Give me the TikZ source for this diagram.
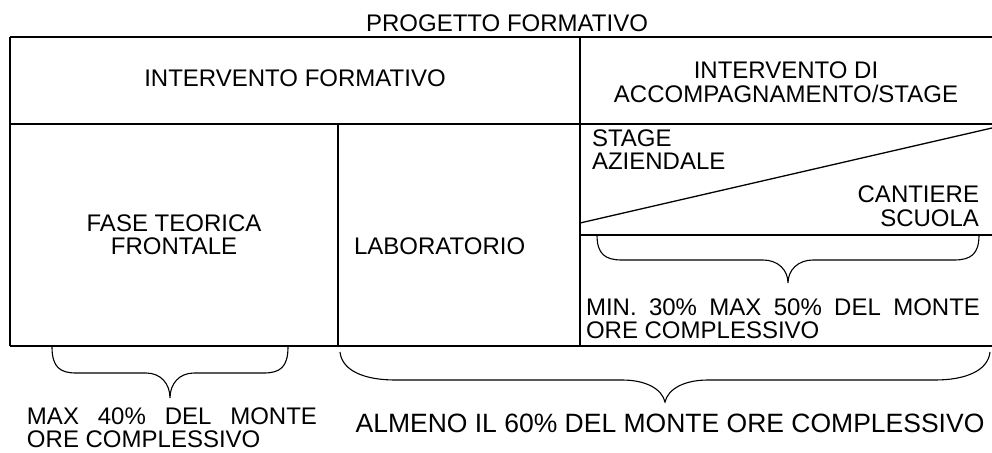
\documentclass[tikz,border=0pt]{standalone}
\usepackage{fontspec}
\setmainfont{Liberation Sans}
\begin{document}
\begin{tikzpicture}[x=1pt,y=-1pt,
  rule/.style={line width=1.3pt,black},
  bracepath/.style={line width=1.1pt,black},
  lbl/.style={inner sep=0pt,outer sep=0pt,font=\fontsize{24}{24}\selectfont},
  biglbl/.style={inner sep=0pt,outer sep=0pt,font=\fontsize{26.5}{26.5}\selectfont}]
\useasboundingbox[fill=white] (0,0) rectangle (992,452);
% table corners
\coordinate (tl) at (10,37);
\coordinate (tr) at (992,37);
\coordinate (bl) at (10,346);
\coordinate (br) at (992,346);
\coordinate (ml) at (10,124);
\coordinate (mr) at (992,124);
\coordinate (vt) at (580,37);
\coordinate (vm) at (580,124);
\coordinate (vb) at (580,346);
\coordinate (lt) at (338,124);
\coordinate (lb) at (338,346);
\coordinate (dl) at (580,223);
\coordinate (dr) at (992,128);
\coordinate (hl) at (580,235);
\coordinate (hr) at (992,235);
\draw[rule] (tl) -- (tr);
\draw[rule] (ml) -- (mr);
\draw[rule] (bl) -- (br);
\draw[rule] (tl) -- (bl);
\draw[rule] (vt) -- (vb);
\draw[rule] (lt) -- (lb);
\draw[rule] (dl) -- (dr);
\draw[rule] (hl) -- (hr);
% braces
\draw[bracepath] (52,347) .. controls (52,367) and (60,373) .. (76,373) -- (146,373)
  .. controls (161,373) and (170,384) .. (170,398)
  .. controls (170,384) and (179,373) .. (194,373) -- (264,373)
  .. controls (280,373) and (288,367) .. (288,347);
\draw[bracepath] (597,235) .. controls (597,254) and (605,260) .. (622,260) -- (763,260)
  .. controls (778,260) and (788,270) .. (788,283)
  .. controls (788,270) and (798,260) .. (813,260) -- (954,260)
  .. controls (971,260) and (979,254) .. (979,235);
\draw[bracepath] (340,352) .. controls (342,371) and (365,380) .. (395,380) -- (622,380)
  .. controls (646,380) and (662,389) .. (665,402)
  .. controls (668,389) and (684,380) .. (708,380) -- (935,380)
  .. controls (965,380) and (988,371) .. (990,352);
% texts
\node[lbl,anchor=base] (prog) at (507,32) {PROGETTO FORMATIVO};
\node[lbl,anchor=base] (intf) at (295,86) {INTERVENTO FORMATIVO};
\node[lbl,anchor=base] (inta) at (786,78) {INTERVENTO DI};
\node[lbl,anchor=base] (intb) at (786,102) {ACCOMPAGNAMENTO/STAGE};
\node[lbl,anchor=base] (fasea) at (174,231) {FASE TEORICA};
\node[lbl,anchor=base] (faseb) at (174,254) {FRONTALE};
\node[lbl,anchor=base west] (lab) at (354,254) {LABORATORIO};
\node[lbl,anchor=base west] (stga) at (592,146) {STAGE};
\node[lbl,anchor=base west] (stgb) at (592,169) {AZIENDALE};
\node[lbl,anchor=base east] (canta) at (979,202) {CANTIERE};
\node[lbl,anchor=base east] (cantb) at (979,226) {SCUOLA};
\node[lbl,anchor=base west] (mina) at (586,315) {\makebox[394pt][s]{MIN. 30\% MAX 50\% DEL MONTE}};
\node[lbl,anchor=base west] (minb) at (586,338) {ORE COMPLESSIVO};
\node[lbl,anchor=base west] (maxa) at (27,424) {\makebox[290pt][s]{MAX 40\% DEL MONTE}};
\node[lbl,anchor=base west] (maxb) at (27,447) {ORE COMPLESSIVO};
\node[biglbl,anchor=base] (alm) at (670,432) {ALMENO IL 60\% DEL MONTE ORE COMPLESSIVO};
\end{tikzpicture}
\end{document}
